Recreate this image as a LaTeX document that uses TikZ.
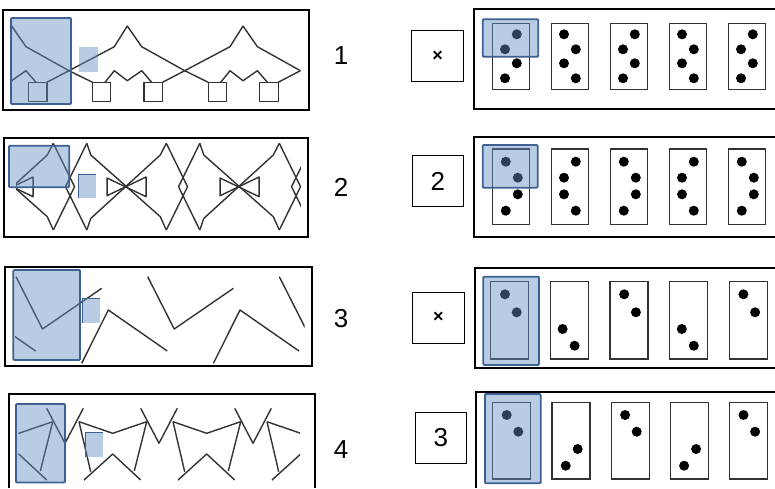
\documentclass[tikz,border=0pt]{standalone}
\usepackage{fontspec}
\setmainfont{Liberation Sans}
\definecolor{hlfill}{RGB}{98,142,196}
\definecolor{hlline}{RGB}{62,96,146}
\definecolor{strandgray}{RGB}{50,50,50}
\tikzset{
  panel/.style={draw=black,line width=2pt},
  strand/.style={draw=strandgray,line width=1.4pt,line join=round},
  hilite/.style={fill=hlfill,fill opacity=0.45,draw=hlline,line width=1.8pt,rounded corners=1pt},
  marker/.style={fill=hlfill,fill opacity=0.45},
  card/.style={draw=strandgray,line width=1.2pt},
  pip/.style={fill=black},
  tag/.style={font=\fontsize{26}{26}\selectfont},
  choice/.style={draw,line width=0.9pt,minimum width=51.5pt,minimum height=51pt,inner sep=0pt,font=\fontsize{26}{26}\selectfont}
}

\begin{document}
\begin{tikzpicture}[x=1pt,y=-1pt]
\useasboundingbox (0,0) rectangle (775,488);

% left panels
\draw[panel] (3.3,10) rectangle (309.3,110);
\draw[panel] (4,138) rectangle (308,237);
\draw[panel] (5.3,266.7) rectangle (311.7,365.7);
\draw[panel] (9.3,488) -- (9.3,394) -- (315,394) -- (315,488);

% panel 1
\begin{scope}
\clip (11.7,12) rectangle (300.4,108);
\foreach \c in {-46.7,69,184.7,300.4}{
  \draw[strand] (\c,70.7) -- (\c+45.3,46.7) -- (\c+58.3,26) -- (\c+72.7,46.7) -- (\c+115.7,70.7);
  \draw[strand] (\c,70.7) -- (\c+23.5,82.3);
  \draw[strand] (\c+23.5,82.3) rectangle (\c+41.5,101.7);
  \draw[strand] (\c+36,82.3) -- (\c+45.3,70.7) -- (\c+58.3,80.7) -- (\c+72.7,70.7) -- (\c+82.7,82.3);
  \draw[strand] (\c+75,82.3) rectangle (\c+93.5,101.7);
  \draw[strand] (\c+93.5,82.3) -- (\c+115.7,70.7);
}
\end{scope}

% panel 2
\begin{scope}
\clip (16,140) rectangle (300.8,234);
\foreach \p in {-59.7,53.3,166.3,279.3}{
  \draw[strand] (\p,143.3) -- (\p+21.25,186.7) -- (\p,230);
  \draw[strand] (\p+33.5,143.3) -- (\p+12.25,186.7) -- (\p+33.5,230);
  \draw[strand] (\p+33.5,143.3) -- (\p+37.5,155) -- (\p+107,216.7) -- (\p+113,230);
  \draw[strand] (\p+33.5,230) -- (\p+37.5,218.4) -- (\p+107,155) -- (\p+113,143.3);
  \draw[strand] (\p+53.75,178) -- (\p+92.75,196.7) -- (\p+92.75,177) -- (\p+53.75,195.7) -- cycle;
}
\end{scope}

% panel 3
\begin{scope}
\clip (15,269) rectangle (304.5,364);
\foreach \s in {-115.7,16,147.7,279.3}{
  \draw[strand] (\s,276.7) -- (\s+26.5,329) -- (\s+85.7,288.3);
  \draw[strand] (\s+65.7,363.3) -- (\s+92.3,310) -- (\s+151.3,351);
}
\end{scope}

% panel 4
\begin{scope}
\clip (18.3,396) rectangle (300,486);
\foreach \v in {-29,65,159,253}{
  \draw[strand] (\v-18.3,408.3) -- (\v,443.3) -- (\v+18.3,408.3);
  \draw[strand] (\v+14,421.7) -- (\v+47.7,433.3) -- (\v+81.7,421.7);
  \draw[strand] (\v+14,421.7) -- (\v+25.7,471.7);
  \draw[strand] (\v+81.7,421.7) -- (\v+69.3,471);
  \draw[strand] (\v+19,480) -- (\v+47.7,454) -- (\v+75.7,480);
}
\end{scope}

% highlights, left
\draw[hilite] (11,18) rectangle (71,104);
\fill[marker] (79,47) rectangle (98,72);
\draw[hilite] (9,145.7) rectangle (69.3,187.3);
\fill[marker] (78.3,174.3) rectangle (96,198.3);
\draw[hlline,line width=0.8pt] (78.3,198.3) -- (78.3,174.3) -- (96,174.3);
\draw[hilite] (13.3,270) rectangle (80,360);
\fill[marker] (82.3,298.3) rectangle (100,322.7);
\draw[hlline,line width=0.8pt] (82.3,322.7) -- (82.3,298.3) -- (100,298.3);
\draw[hilite] (16,404) rectangle (65,482.5);
\fill[marker] (85.7,432.3) rectangle (102.7,456.7);
\draw[hlline,line width=0.8pt] (85.7,456.7) -- (85.7,432.3) -- (102.7,432.3);

% row numbers
\node[tag] (n1) at (341,56) {1};
\node[tag] (n2) at (341,187) {2};
\node[tag] (n3) at (341,319) {3};
\node[tag] (n4) at (341,450) {4};

% answers
\node[choice] (pick1) at (437.5,56.2) {\fontsize{18}{18}\selectfont\bfseries ×};
\node[choice] (pick2) at (437.8,181.2) {2};
\node[choice] (pick3) at (438.3,317.5) {\fontsize{18}{18}\selectfont\bfseries ×};
\node[choice] (pick4) at (440.8,438) {3};

% right panels
\draw[panel] (775,9.3) -- (474,9.3) -- (474,109.3) -- (775,109.3);
\draw[panel] (775,136.7) -- (474,136.7) -- (474,236.7) -- (775,236.7);
\draw[panel] (775,267.7) -- (475,267.7) -- (475,368.3) -- (775,368.3);
\draw[panel] (776,391.7) -- (476,391.7) -- (476,488);

% cards row 1
\foreach \i in {0,...,4}{
  \pgfmathsetmacro{\L}{492.3+59*\i}
  \draw[card] (\L,23.3) rectangle ++(37.5,66);
  \ifodd\i
    \pgfmathsetmacro{\xa}{\L+12.7}\pgfmathsetmacro{\xb}{\L+24.5}
  \else
    \pgfmathsetmacro{\xa}{\L+24.5}\pgfmathsetmacro{\xb}{\L+12.7}
  \fi
  \fill[pip] (\xa,34.3) circle (5) (\xb,49.3) circle (5) (\xa,63.3) circle (5) (\xb,78.3) circle (5);
}
% cards row 2
\foreach \i in {0,...,4}{
  \pgfmathsetmacro{\L}{492.3+59*\i}
  \draw[card] (\L,149) rectangle ++(37.5,75.3);
  \ifodd\i
    \pgfmathsetmacro{\xa}{\L+24.5}\pgfmathsetmacro{\xb}{\L+12.7}
  \else
    \pgfmathsetmacro{\xa}{\L+13.5}\pgfmathsetmacro{\xb}{\L+25.5}
  \fi
  \fill[pip] (\xa,161.7) circle (5) (\xb,177.7) circle (5) (\xb,194.3) circle (5) (\xa,210.7) circle (5);
}
% cards row 3
\foreach \i in {0,...,4}{
  \pgfmathsetmacro{\L}{490.7+59.6*\i}
  \draw[card] (\L,281.7) rectangle ++(38,77.3);
  \ifodd\i
    \fill[pip] (\L+12.3,329) circle (5) (\L+24.3,345.7) circle (5);
  \else
    \fill[pip] (\L+14.3,294.3) circle (5) (\L+26,312.3) circle (5);
  \fi
}
% cards row 4
\foreach \i in {0,...,4}{
  \pgfmathsetmacro{\L}{492.7+59.2*\i}
  \draw[card] (\L,402.7) rectangle ++(38,76.3);
  \ifodd\i
    \fill[pip] (\L+25.8,449) circle (5) (\L+13.8,465.7) circle (5);
  \else
    \fill[pip] (\L+14,415) circle (5) (\L+25.6,431.7) circle (5);
  \fi
}

% highlights, right
\draw[hilite] (482.7,19.3) rectangle (538.3,56.7);
\draw[hilite] (482.7,145) rectangle (537.7,187.7);
\draw[hilite] (483.3,276.7) rectangle (539,365);
\draw[hilite] (485,394) rectangle (540.7,483.3);
\end{tikzpicture}
\end{document}
